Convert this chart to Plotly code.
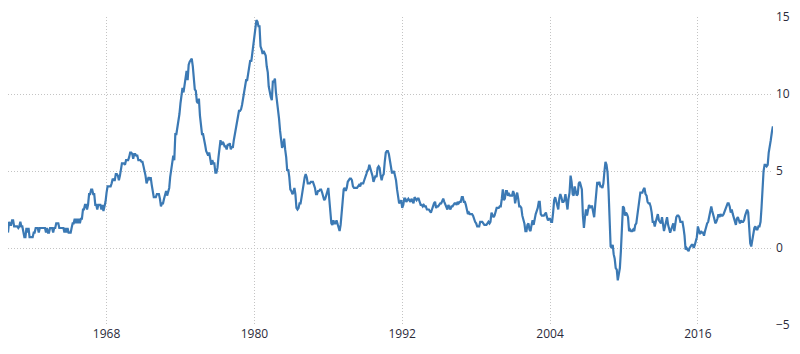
import pandas as pd
import plotly.graph_objects as go

# Monthly year-over-year inflation (%), Jan 1960 - Feb 2022
inflation = [
    1.0, 1.7, 1.5, 1.5, 1.8, 1.8, 1.4, 1.4, 1.4, 1.4, 1.3, 1.4,  # 1960
    1.7, 1.4, 1.4, 1.0, 0.7, 0.7, 1.3, 1.0, 1.3, 0.7, 0.7, 0.7,  # 1961
    0.7, 1.0, 1.0, 1.3, 1.3, 1.3, 1.0, 1.3, 1.3, 1.3, 1.3, 1.3,  # 1962
    1.3, 1.0, 1.3, 1.0, 1.0, 1.3, 1.3, 1.3, 1.0, 1.3, 1.3, 1.6,  # 1963
    1.6, 1.6, 1.3, 1.3, 1.3, 1.3, 1.3, 1.0, 1.3, 1.0, 1.3, 1.0,  # 1964
    1.0, 1.0, 1.3, 1.6, 1.6, 1.9, 1.6, 1.9, 1.6, 1.9, 1.6, 1.9,  # 1965
    1.9, 2.5, 2.5, 2.8, 2.8, 2.5, 2.8, 3.5, 3.5, 3.8, 3.8, 3.5,  # 1966
    3.5, 2.8, 2.8, 2.5, 2.8, 2.8, 2.8, 2.5, 2.8, 2.4, 2.7, 3.0,  # 1967
    3.6, 4.0, 4.0, 4.0, 4.0, 4.2, 4.5, 4.4, 4.4, 4.8, 4.8, 4.7,  # 1968
    4.4, 4.7, 5.2, 5.5, 5.5, 5.5, 5.4, 5.7, 5.7, 5.7, 5.9, 6.2,  # 1969
    6.2, 6.1, 5.8, 6.1, 6.1, 6.0, 6.0, 5.7, 5.7, 5.7, 5.6, 5.6,  # 1970
    5.3, 5.0, 4.7, 4.2, 4.4, 4.6, 4.4, 4.6, 4.1, 3.8, 3.3, 3.3,  # 1971
    3.3, 3.5, 3.5, 3.5, 3.2, 2.7, 2.9, 2.9, 3.2, 3.4, 3.7, 3.4,  # 1972
    3.6, 3.9, 4.6, 5.1, 5.5, 6.0, 5.7, 7.4, 7.4, 7.8, 8.3, 8.7,  # 1973
    9.4, 10.0, 10.4, 10.1, 10.7, 10.9, 11.5, 10.9, 11.9, 12.1, 12.2, 12.3,  # 1974
    11.8, 11.2, 10.3, 10.2, 9.5, 9.4, 9.7, 8.6, 7.9, 7.4, 7.4, 6.9,  # 1975
    6.7, 6.3, 6.1, 6.0, 6.2, 5.9, 5.4, 5.7, 5.5, 5.5, 4.9, 4.9,  # 1976
    5.2, 5.9, 6.4, 7.0, 6.7, 6.9, 6.8, 6.6, 6.6, 6.4, 6.7, 6.7,  # 1977
    6.8, 6.4, 6.6, 6.5, 7.0, 7.4, 7.7, 7.9, 8.3, 8.9, 8.9, 9.0,  # 1978
    9.3, 9.9, 10.1, 10.5, 10.9, 10.9, 11.3, 11.8, 12.2, 12.1, 12.6, 13.3,  # 1979
    13.9, 14.2, 14.8, 14.7, 14.4, 14.4, 13.1, 12.9, 12.6, 12.8, 12.6, 12.5,  # 1980
    11.8, 11.4, 10.5, 10.0, 9.8, 9.6, 10.8, 10.8, 11.0, 10.1, 9.6, 8.9,  # 1981
    8.4, 7.6, 6.8, 6.5, 6.7, 7.1, 6.4, 5.9, 5.0, 5.1, 4.6, 3.8,  # 1982
    3.7, 3.5, 3.6, 3.9, 3.5, 2.6, 2.5, 2.6, 2.9, 2.9, 3.3, 3.8,  # 1983
    4.2, 4.6, 4.8, 4.6, 4.2, 4.2, 4.2, 4.3, 4.3, 4.3, 4.1, 3.9,  # 1984
    3.5, 3.5, 3.7, 3.7, 3.8, 3.8, 3.6, 3.3, 3.1, 3.2, 3.5, 3.8,  # 1985
    3.9, 3.1, 2.2, 1.6, 1.5, 1.8, 1.6, 1.6, 1.8, 1.5, 1.3, 1.1,  # 1986
    1.5, 2.1, 3.0, 3.8, 3.9, 3.7, 3.9, 4.3, 4.4, 4.5, 4.5, 4.4,  # 1987
    4.0, 3.9, 3.9, 3.9, 3.9, 4.0, 4.1, 4.0, 4.2, 4.2, 4.2, 4.4,  # 1988
    4.7, 4.8, 5.0, 5.1, 5.4, 5.2, 5.0, 4.7, 4.3, 4.5, 4.7, 4.6,  # 1989
    5.2, 5.3, 5.2, 4.7, 4.4, 4.7, 4.8, 5.6, 6.2, 6.3, 6.3, 6.1,  # 1990
    5.7, 5.3, 4.9, 4.9, 5.0, 4.7, 4.4, 3.8, 3.4, 2.9, 3.0, 3.1,  # 1991
    2.6, 2.8, 3.2, 3.2, 3.0, 3.1, 3.2, 3.1, 3.0, 3.2, 3.0, 2.9,  # 1992
    3.3, 3.2, 3.1, 3.2, 3.2, 3.0, 2.8, 2.8, 2.7, 2.8, 2.7, 2.7,  # 1993
    2.5, 2.5, 2.5, 2.4, 2.3, 2.5, 2.8, 2.9, 3.0, 2.6, 2.7, 2.7,  # 1994
    2.8, 2.9, 2.9, 3.1, 3.2, 3.0, 2.8, 2.6, 2.5, 2.8, 2.6, 2.5,  # 1995
    2.7, 2.7, 2.8, 2.9, 2.9, 2.8, 3.0, 2.9, 3.0, 3.0, 3.3, 3.3,  # 1996
    3.0, 3.0, 2.8, 2.5, 2.2, 2.3, 2.2, 2.2, 2.2, 2.1, 1.8, 1.7,  # 1997
    1.6, 1.4, 1.4, 1.4, 1.7, 1.7, 1.7, 1.6, 1.5, 1.5, 1.5, 1.6,  # 1998
    1.7, 1.6, 1.7, 2.3, 2.1, 2.0, 2.1, 2.3, 2.6, 2.6, 2.6, 2.7,  # 1999
    2.7, 3.2, 3.8, 3.1, 3.2, 3.7, 3.7, 3.4, 3.5, 3.4, 3.4, 3.4,  # 2000
    3.7, 3.5, 2.9, 3.3, 3.6, 3.2, 2.7, 2.7, 2.6, 2.1, 1.9, 1.6,  # 2001
    1.1, 1.1, 1.5, 1.6, 1.2, 1.1, 1.5, 1.8, 1.5, 2.0, 2.2, 2.4,  # 2002
    2.6, 3.0, 3.0, 2.2, 2.1, 2.1, 2.1, 2.2, 2.3, 2.0, 1.8, 1.9,  # 2003
    1.9, 1.7, 1.7, 2.3, 3.1, 3.3, 3.0, 2.7, 2.5, 3.2, 3.5, 3.3,  # 2004
    3.0, 3.0, 3.1, 3.5, 2.8, 2.5, 3.2, 3.6, 4.7, 4.3, 3.5, 3.4,  # 2005
    4.0, 3.6, 3.4, 3.5, 4.2, 4.3, 4.1, 3.8, 2.1, 1.3, 2.0, 2.5,  # 2006
    2.1, 2.4, 2.8, 2.6, 2.7, 2.7, 2.4, 2.0, 2.8, 3.5, 4.3, 4.1,  # 2007
    4.3, 4.0, 4.0, 3.9, 4.2, 5.0, 5.6, 5.4, 4.9, 3.7, 1.1, 0.1,  # 2008
    0.0, 0.2, -0.4, -0.7, -1.3, -1.4, -2.1, -1.5, -1.3, -0.2, 1.8, 2.7,  # 2009
    2.6, 2.1, 2.3, 2.2, 2.0, 1.1, 1.2, 1.1, 1.1, 1.2, 1.1, 1.5,  # 2010
    1.6, 2.1, 2.7, 3.2, 3.6, 3.6, 3.6, 3.8, 3.9, 3.5, 3.4, 3.0,  # 2011
    2.9, 2.9, 2.7, 2.3, 1.7, 1.7, 1.4, 1.7, 2.0, 2.2, 1.8, 1.7,  # 2012
    1.6, 2.0, 1.5, 1.1, 1.4, 1.8, 2.0, 1.5, 1.2, 1.0, 1.2, 1.5,  # 2013
    1.6, 1.1, 1.5, 2.0, 2.1, 2.1, 2.0, 1.7, 1.7, 1.7, 1.3, 0.8,  # 2014
    -0.1, 0.0, -0.1, -0.2, 0.0, 0.1, 0.2, 0.2, 0.0, 0.2, 0.5, 0.7,  # 2015
    1.4, 1.0, 0.9, 1.1, 1.0, 1.0, 0.8, 1.1, 1.5, 1.6, 1.7, 2.1,  # 2016
    2.5, 2.7, 2.4, 2.2, 1.9, 1.6, 1.7, 1.9, 2.2, 2.0, 2.2, 2.1,  # 2017
    2.1, 2.2, 2.4, 2.5, 2.8, 2.9, 2.9, 2.7, 2.3, 2.5, 2.2, 1.9,  # 2018
    1.6, 1.5, 1.9, 2.0, 1.8, 1.6, 1.8, 1.7, 1.7, 1.8, 2.1, 2.3,  # 2019
    2.5, 2.3, 1.5, 0.3, 0.1, 0.6, 1.0, 1.3, 1.4, 1.2, 1.2, 1.4,  # 2020
    1.4, 1.7, 2.6, 4.2, 5.0, 5.4, 5.4, 5.3, 5.4, 6.2, 6.8, 7.0,  # 2021
    7.5, 7.9,  # 2022
]

dates = pd.date_range("1960-01-01", periods=len(inflation), freq="MS")

x_tick_years = ["1968", "1980", "1992", "2004", "2016"]
y_ticks = [-5, 0, 5, 10, 15]

fig = go.Figure()
fig.add_trace(go.Scatter(
    x=dates, y=inflation, mode="lines",
    line=dict(color="#3b79b4", width=2.2),
    hoverinfo="x+y", showlegend=False,
))

grid_col = "#c4c4c4"
fig.update_layout(
    width=800, height=354,
    margin=dict(l=8, r=27, t=17, b=29),
    paper_bgcolor="white", plot_bgcolor="white",
    font=dict(family="Open Sans, DejaVu Sans, sans-serif", size=12, color="#2b2b3a"),
    xaxis=dict(
        range=["1960-01-01", "2022-02-05"],
        tickvals=[f"{y}-01-01" for y in x_tick_years],
        ticktext=x_tick_years,
        showgrid=True, gridcolor=grid_col, griddash="1px,2px", gridwidth=1,
        showline=False, zeroline=False, ticks="", ticklabelstandoff=0,
    ),
    yaxis=dict(
        range=[-5, 15], side="right",
        tickvals=y_ticks,
        showgrid=True, gridcolor=grid_col, griddash="1px,2px", gridwidth=1,
        showline=False, zeroline=False,
        ticks="", ticklabelstandoff=2,
    ),
)

fig.write_html(
    "out.html",
    config={"displayModeBar": False},
    post_script="document.body.style.margin='0px';document.body.style.overflow='hidden';",
)
